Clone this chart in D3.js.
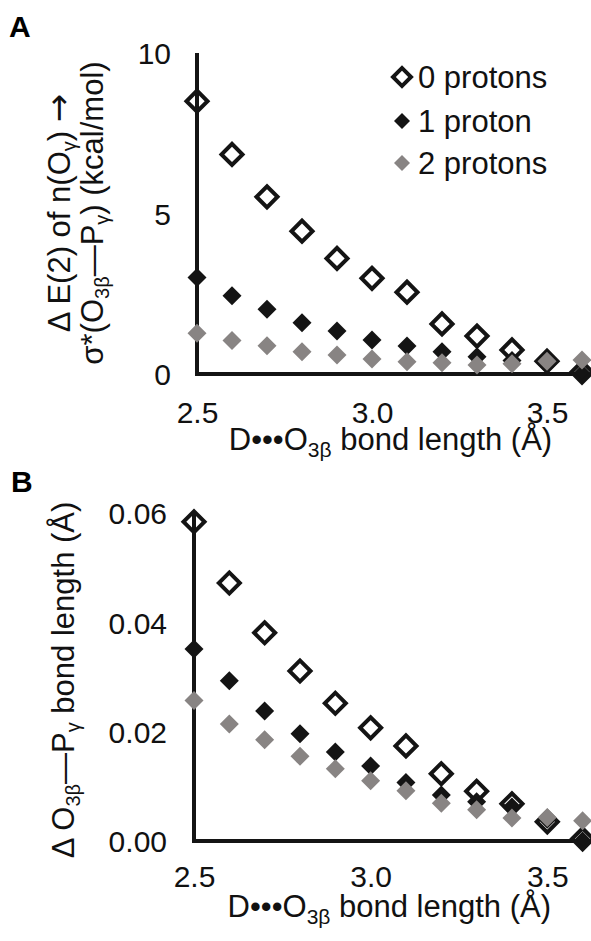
<!DOCTYPE html>
<html>
<head>
<meta charset="utf-8">
<script src="https://cdn.jsdelivr.net/npm/d3@7"></script>
<style>
  html, body { margin: 0; padding: 0; background: #fff; }
  svg { display: block; font-family: "Liberation Sans", Arial, sans-serif; }
</style>
</head>
<body>
<svg id="chart" width="591" height="941"></svg>
<script>
// D•••O3β distances (Å) shared by both panels
const distances = [2.5, 2.6, 2.7, 2.8, 2.9, 3.0, 3.1, 3.2, 3.3, 3.4, 3.5, 3.6];

// Panel A: ΔE(2) of n(Oγ) → σ*(O3β—Pγ), kcal/mol
const energyZero = [8.50, 6.84, 5.52, 4.45, 3.60, 2.98, 2.55, 1.56, 1.18, 0.75, 0.40, 0.06];
const energyOne  = [3.01, 2.44, 2.02, 1.60, 1.34, 1.06, 0.87, 0.69, 0.54, 0.42, 0.30, 0.00];
const energyTwo  = [1.27, 1.04, 0.88, 0.69, 0.59, 0.47, 0.38, 0.35, 0.28, 0.32, 0.40, 0.44];

// Panel B: Δ O3β—Pγ bond length, Å
const lengthZero = [0.0584, 0.0472, 0.0381, 0.0311, 0.0252, 0.0207, 0.0174, 0.0123, 0.0091, 0.0068, 0.0035, 0.0004];
const lengthOne  = [0.0351, 0.0293, 0.0238, 0.0196, 0.0163, 0.0137, 0.0107, 0.0084, 0.0072, 0.0062, 0.0040, 0.0000];
const lengthTwo  = [0.0257, 0.0214, 0.0185, 0.0155, 0.0132, 0.0110, 0.0092, 0.0069, 0.0057, 0.0042, 0.0043, 0.0037];

const seriesNames = ["0 protons", "1 proton", "2 protons"];
const xTicks = [2.5, 3.0, 3.5];
const yTicksA = [0, 5, 10];
const yTicksB = [0, 0.02, 0.04, 0.06];

const BLACK = "#141414";
const GREY = "#888483";
const styles = [
  { fill: "none", stroke: BLACK, sw: 4, size: 2 * 10.5 * 10.5 },
  { fill: BLACK, stroke: "none", sw: 0, size: 2 * 9.5 * 9.5 },
  { fill: GREY, stroke: "none", sw: 0, size: 2 * 9.5 * 9.5 }
];
// stacking: filled black below the open outline, grey on top
const drawOrder = [1, 0, 2];

const svg = d3.select("#chart");
const FONT = 31;
const TICK_FONT = 30;

function diamond(size) {
  return d3.symbol(d3.symbolSquare, size)();
}

function panel(opts) {
  const g = svg.append("g");
  const x = d3.scaleLinear().domain([2.5, 3.6]).range(opts.xRange);
  const y = d3.scaleLinear().domain(opts.yDomain).range(opts.yRange);

  // y tick labels
  const yAxis = d3.axisLeft(y).tickValues(opts.yTicks).tickSize(0).tickPadding(opts.yPad)
    .tickFormat(opts.yFormat);
  const ya = g.append("g").attr("transform", `translate(${opts.xRange[0]},0)`).call(yAxis);
  ya.select(".domain").remove();
  ya.selectAll("text").attr("font-size", TICK_FONT).attr("font-family", "Liberation Sans, Arial, sans-serif")
    .attr("fill", "#111").attr("dy", "0.36em");

  // x tick labels
  const xAxis = d3.axisBottom(x).tickValues(xTicks).tickSize(0).tickPadding(opts.xPad)
    .tickFormat(d3.format(".1f"));
  const xa = g.append("g").attr("transform", `translate(0,${opts.yRange[0]})`).call(xAxis);
  xa.select(".domain").remove();
  xa.selectAll("text").attr("font-size", TICK_FONT).attr("font-family", "Liberation Sans, Arial, sans-serif")
    .attr("fill", "#111").attr("dy", "0");

  // axis lines
  g.append("path")
    .attr("d", `M${x(2.5)},${y(opts.yDomain[1])}V${y(opts.yDomain[0])}H${x(3.6)}`)
    .attr("fill", "none").attr("stroke", BLACK).attr("stroke-width", 4)
    .attr("stroke-linecap", "butt").attr("stroke-linejoin", "miter");

  // markers
  drawOrder.forEach(i => {
    const st = styles[i];
    const vals = opts.series[i];
    g.append("g").selectAll("path").data(vals).join("path")
      .attr("d", diamond(st.size))
      .attr("transform", (d, j) => `translate(${x(distances[j])},${y(d)}) rotate(45)`)
      .attr("fill", st.fill).attr("stroke", st.stroke).attr("stroke-width", st.sw);
  });

  // x axis title
  const xt = g.append("text").attr("x", (opts.xRange[0] + opts.xRange[1]) / 2 + 1)
    .attr("y", opts.xTitleY).attr("text-anchor", "middle").attr("font-size", FONT).attr("fill", "#111");
  xt.append("tspan").text("D\u2022\u2022\u2022O");
  xt.append("tspan").attr("font-size", 21).attr("dy", 7).text("3\u03b2");
  xt.append("tspan").attr("dy", -7).text(" bond length (\u00c5)");

  return { g, x, y };
}

// Panel A
panel({
  xRange: [197, 582], yRange: [374, 53], yDomain: [0, 10], yTicks: yTicksA,
  yFormat: d3.format("d"), yPad: 26, xPad: 49, xTitleY: 450,
  series: [energyZero, energyOne, energyTwo]
});

// Panel B
panel({
  xRange: [194, 582.6], yRange: [841, 513], yDomain: [0, 0.06], yTicks: yTicksB,
  yFormat: d3.format(".2f"), yPad: 27, xPad: 46, xTitleY: 917,
  series: [lengthZero, lengthOne, lengthTwo]
});

// Panel letters
svg.append("text").attr("x", 9).attr("y", 37).attr("font-size", 30).attr("font-weight", "bold").text("A");
svg.append("text").attr("x", 11).attr("y", 492).attr("font-size", 30).attr("font-weight", "bold").text("B");

// rotated axis titles
function rotText(xPos, yPos) {
  return svg.append("text").attr("transform", `translate(${xPos},${yPos}) rotate(-90)`)
    .attr("text-anchor", "middle").attr("font-size", FONT).attr("fill", "#111");
}
const ya1 = rotText(70, 213);
ya1.append("tspan").text("\u0394 E(2) of n(O");
ya1.append("tspan").attr("font-size", 20).attr("dy", 6).text("\u03b3");
ya1.append("tspan").attr("dy", -6).text(") ");
ya1.append("tspan").attr("font-family", "DejaVu Sans").attr("font-size", 34).text("\u2192");

const ya2 = rotText(103, 213);
ya2.append("tspan").text("\u03c3*(O");
ya2.append("tspan").attr("font-size", 20).attr("dy", 6).text("3\u03b2");
ya2.append("tspan").attr("dy", -6).text("\u2014P");
ya2.append("tspan").attr("font-size", 20).attr("dy", 6).text("\u03b3");
ya2.append("tspan").attr("dy", -6).text(") (kcal/mol)");

const yb = rotText(74, 680);
yb.append("tspan").text("\u0394 O");
yb.append("tspan").attr("font-size", 20).attr("dy", 6).text("3\u03b2");
yb.append("tspan").attr("dy", -6).text("\u2014P");
yb.append("tspan").attr("font-size", 20).attr("dy", 6).text("\u03b3");
yb.append("tspan").attr("dy", -6).text(" bond length (\u00c5)");

// Legend
const legendY = [77, 121, 163];
const legendSizes = [2 * 9 * 9, 2 * 8 * 8, 2 * 8 * 8];
const leg = svg.append("g");
seriesNames.forEach((name, i) => {
  const st = styles[i];
  leg.append("path").attr("d", diamond(legendSizes[i]))
    .attr("transform", `translate(402,${legendY[i]}) rotate(45)`)
    .attr("fill", i === 0 ? "#fff" : st.fill).attr("stroke", st.stroke).attr("stroke-width", st.sw);
  leg.append("text").attr("x", 418).attr("y", legendY[i] + 11)
    .attr("font-size", FONT).attr("fill", "#111").text(name);
});
</script>
</body>
</html>
